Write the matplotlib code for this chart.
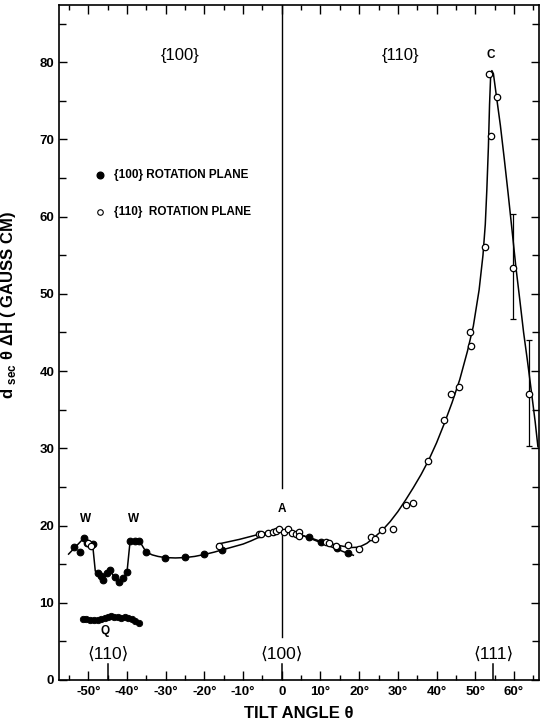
import matplotlib
matplotlib.use("Agg")
import matplotlib.pyplot as plt
import numpy as np

plt.rcParams['font.family'] = ['Liberation Sans', 'DejaVu Sans']
plt.rcParams['mathtext.fontset'] = 'custom'
plt.rcParams['mathtext.rm'] = 'Liberation Sans:bold'
plt.rcParams['mathtext.bf'] = 'Liberation Sans:bold'

# {100} rotation plane (filled circles)
theta_100 = [-53.8, -52.1, -51.1, -50.4, -48.9, -47.4, -46.8, -46.1, -45.2, -44.4,
             -43.2, -42.1, -41.1, -40.0, -39.2, -38.0, -37.0, -35.1, -30.1, -25.1,
             -20.1, -15.4, 7.1, 10.1, 14.4, 17.2]
dh_100 = [17.2, 16.6, 18.4, 17.7, 17.6, 13.9, 13.5, 13.0, 13.9, 14.3,
          13.3, 12.7, 13.2, 14.0, 18.0, 18.0, 18.0, 16.6, 15.8, 15.9,
          16.3, 16.8, 18.5, 17.9, 17.1, 16.5]

# {110} rotation plane (open circles)
theta_110 = [-50.0, -49.4, -16.1, -5.9, -5.3, -3.5, -2.3, -1.5, -0.6, 0.6, 1.5, 2.6,
             3.7, 4.5, 4.5, 11.4, 12.3, 14.0, 17.0, 20.0, 23.1, 24.0, 25.9, 28.8,
             32.1, 33.9, 37.9, 41.9, 43.7, 45.8, 48.7, 48.8, 52.6, 53.5, 54.1, 55.5,
             59.7, 64.0]
dh_110 = [17.8, 17.4, 17.3, 18.9, 18.9, 19.0, 19.1, 19.3, 19.5, 19.2, 19.5, 19.0,
          18.9, 19.2, 18.6, 17.9, 17.7, 17.4, 17.5, 16.9, 18.5, 18.2, 19.4, 19.5,
          22.6, 22.9, 28.4, 33.6, 37.0, 38.0, 45.0, 43.3, 56.0, 78.4, 70.5, 75.5,
          53.4, 37.0]

# error bars
err_theta = [59.7, 64.0]
err_val = [53.4, 37.0]
err_low = [46.7, 30.3]
err_high = [60.3, 44.0]

# Q points
theta_q = [-51.5, -50.5, -49.5, -48.6, -47.6, -46.7, -45.8, -45.0, -44.2, -43.3,
           -42.4, -41.5, -40.6, -39.7, -38.8, -37.9, -37.0]
dh_q = [7.9, 7.9, 7.8, 7.8, 7.8, 7.9, 8.0, 8.2, 8.3, 8.2,
        8.1, 8.0, 8.1, 8.0, 7.9, 7.7, 7.4]

# drawn curves
curve100_x = [-55.1, -51.1, -48.9, -48.2, -47.1, -46.1, -44.5, -43.3, -42.2, -40.9,
              -40.0, -39.2, -36.8, -35.1, -33.5, -32.0, -30.2, -27.5, -25.0, -22.5,
              -20.0, -17.5, -15.0, -12.5, -10.0, -8.0, -6.0, -4.0, -2.0, 0.0, 2.0,
              4.0, 6.0, 8.0, 10.0, 12.0, 14.5, 16.5, 18.5]
curve100_y = [16.3, 18.4, 17.6, 14.1, 13.5, 13.0, 14.3, 13.3, 12.6, 13.2,
              14.0, 18.0, 18.0, 16.6, 16.2, 16.0, 15.85, 15.8, 15.85, 16.0,
              16.25, 16.55, 16.9, 17.25, 17.6, 18.0, 18.45, 18.85, 19.15, 19.3, 19.25,
              19.0, 18.6, 18.2, 17.8, 17.4, 16.9, 16.5, 16.15]
curve110_x = [-16.5, -11.0, -6.0, -4.0, -2.0, 0.0, 2.0, 4.0, 6.0, 8.0, 10.0, 12.0,
              14.0, 16.0, 18.0, 20.0, 22.0, 24.0, 26.0, 28.0, 30.0, 32.0, 34.0, 36.0,
              38.0, 40.0, 42.0, 44.0, 46.0, 48.0, 49.5, 51.0, 52.0, 52.6, 53.0, 53.4,
              53.7, 54.0, 54.3, 54.7, 55.5, 56.5, 57.5, 58.5, 59.5, 60.5, 61.5, 62.5,
              63.5, 64.5, 65.5, 66.2]
curve110_y = [17.6, 18.2, 18.85, 19.1, 19.25, 19.3, 19.2, 18.95, 18.6, 18.3, 17.95, 17.7,
              17.5, 17.3, 17.15, 17.2, 17.7, 18.5, 19.4, 20.5, 21.8, 23.3, 24.9, 26.6,
              28.5, 30.7, 33.2, 35.9, 38.9, 42.6, 45.8, 50.5, 55.0, 59.0, 63.5, 69.0,
              74.5, 78.4, 78.9, 78.5, 75.5, 71.8, 67.5, 63.0, 58.3, 53.5, 49.3, 45.0,
              41.3, 37.4, 33.4, 30.2]

special_dirs = [-45.0, 0.0, 54.7]
special_labels = ['⟨110⟩', '⟨100⟩', '⟨111⟩']
xticks = list(range(-50, 70, 10))
xticklabels = [('%d°' % t) if t != 0 else '0' for t in xticks]
yticks = list(range(0, 90, 10))

fig = plt.figure(figsize=(5.42, 7.23), dpi=100)
ax = fig.add_axes([0.108, 0.0595, 0.8866, 0.9336])
ax.set_xlim(-57.7, 66.5)
ax.set_ylim(0, 87.4)

ax.plot(curve100_x, curve100_y, color='black', lw=1.1, zorder=2)
ax.plot(curve110_x, curve110_y, color='black', lw=1.1, zorder=2)

ax.errorbar(err_theta, err_val,
            yerr=[np.array(err_val) - np.array(err_low), np.array(err_high) - np.array(err_val)],
            fmt='none', ecolor='black', elinewidth=0.9, capsize=2.5, capthick=0.9, zorder=2)

ax.plot(theta_100, dh_100, 'o', ms=4.8, mfc='black', mec='black', mew=0.8, zorder=4)
ax.plot(theta_q, dh_q, 'o', ms=4.6, mfc='black', mec='black', mew=0.6, zorder=4)
ax.plot(theta_110, dh_110, 'o', ms=4.6, mfc='white', mec='black', mew=0.9, zorder=5)

# vertical line at 0 (broken around label A)
ax.axvline(0, ymin=24.8 / 87.4, ymax=1, color='black', lw=1.0, zorder=1)
ax.axvline(0, ymin=5.6 / 87.4, ymax=19.2 / 87.4, color='black', lw=1.0, zorder=1)

# special direction ticks
for d in special_dirs:
    ax.axvline(d, ymin=0, ymax=0.023, color='black', lw=1.1)

for d, lab in zip(special_dirs, special_labels):
    ax.text(d, 3.3, lab, ha='center', va='center', fontsize=12.5)

# labels
bold = dict(fontweight='bold', ha='center', va='center')
ax.text(-50.8, 20.9, 'W', fontsize=8.5, **bold)
ax.text(-38.3, 20.9, 'W', fontsize=8.5, **bold)
ax.text(0, 22.2, 'A', fontsize=8.5, **bold)
ax.text(53.9, 80.9, 'C', fontsize=8.5, **bold)
ax.text(-45.6, 6.3, 'Q', fontsize=8.5, **bold)
ax.text(-26.3, 80.9, '{100}', fontsize=12, ha='center', va='center')
ax.text(30.6, 80.9, '{110}', fontsize=12, ha='center', va='center')

# legend
ax.plot([-47.1], [65.4], 'o', ms=4.8, mfc='black', mec='black')
ax.plot([-47.1], [60.6], 'o', ms=4.0, mfc='white', mec='black', mew=0.8)
ax.text(-43.4, 65.4, '{100} ROTATION PLANE', fontsize=8.5, fontweight='bold', va='center')
ax.text(-43.4, 60.6, '{110}  ROTATION PLANE', fontsize=8.5, fontweight='bold', va='center')

ax.set_xticks(xticks)
ax.set_xticklabels(xticklabels, fontsize=9.5, fontweight='bold')
ax.set_xticks(list(range(-55, 70, 10)), minor=True)
ax.set_yticks(yticks)
ax.set_yticklabels([str(t) for t in yticks], fontsize=9.5, fontweight='bold')
ax.set_yticks(list(range(5, 90, 10)), minor=True)

ax.tick_params(which='both', direction='in', top=True, right=True, width=1.0)
ax.tick_params(axis='x', which='major', length=6.5, pad=4)
ax.tick_params(axis='x', which='minor', length=3.6)
ax.tick_params(axis='y', which='major', length=5.5, pad=3)
ax.tick_params(axis='y', which='minor', length=5.0)
for s in ax.spines.values():
    s.set_linewidth(1.2)

ax.set_xlabel('TILT ANGLE θ', fontsize=12, fontweight='bold', labelpad=6)
ax.set_ylabel(r'd ${}_{\mathbf{sec}}$ θ ΔH ( GAUSS CM)', fontsize=12, fontweight='bold')
ax.yaxis.set_label_coords(-0.084, 0.556)

fig.savefig('out.png', dpi=100)
